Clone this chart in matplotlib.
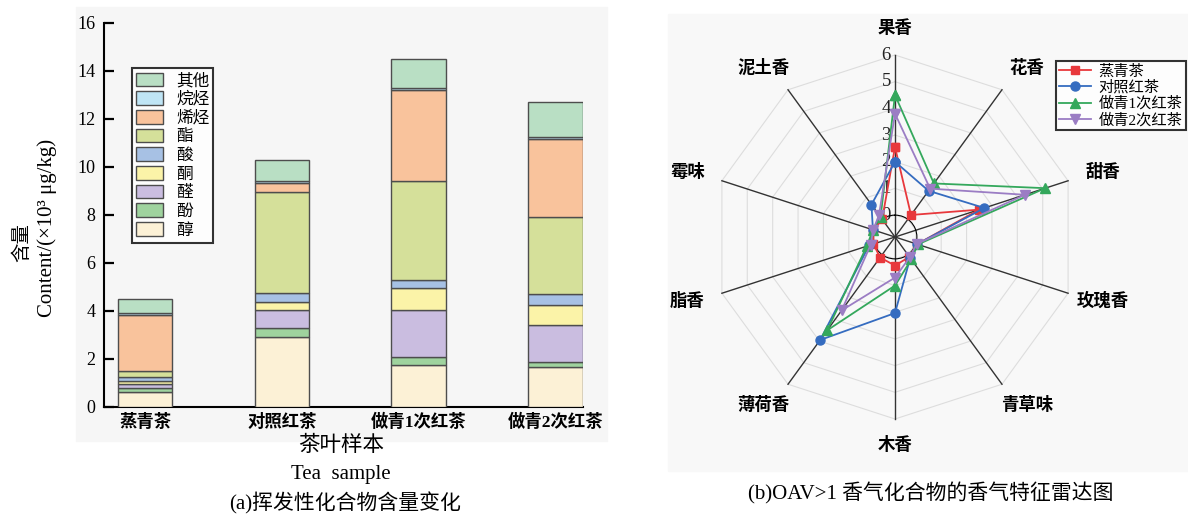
import numpy as np
import matplotlib.pyplot as plt
import matplotlib.transforms as mtransforms
from matplotlib.patches import Rectangle

plt.rcParams['font.family'] = ['Liberation Serif', 'Noto Sans CJK SC']
plt.rcParams['axes.unicode_minus'] = False

# 挥发性化合物含量 (×10^3 μg/kg), 自下而上堆叠
samples = ['蒸青茶', '对照红茶', '做青1次红茶', '做青2次红茶']
classes = ['醇', '酚', '醛', '酮', '酸', '酯', '烯烃', '烷烃', '其他']
alcohol = [0.62, 2.90, 1.75, 1.66]
phenol = [0.18, 0.37, 0.33, 0.20]
aldehyde = [0.15, 0.78, 1.94, 1.56]
ketone = [0.12, 0.30, 0.92, 0.80]
acid = [0.15, 0.37, 0.35, 0.49]
ester = [0.25, 4.24, 4.10, 3.18]
alkene = [2.35, 0.38, 3.80, 3.27]
alkane = [0.07, 0.07, 0.08, 0.09]
others = [0.61, 0.85, 1.20, 1.45]
class_colors = ['#fcf1d6', '#9fd39e', '#cabde0', '#fbf3a8', '#a7c1e4',
                '#d5e09a', '#f9c39c', '#bfe5f5', '#b9dfc4']

# OAV>1 香气特征
aromas = ['果香', '花香', '甜香', '玫瑰香', '青草味', '木香', '薄荷香', '脂香', '霉味', '泥土香']
oav_zqc = [2.55, 0.20, 2.50, 0.05, 0.10, 0.25, 0.13, 0.03, 0.03, 0.00]
oav_dz = [2.00, 1.32, 2.70, 0.05, 0.15, 2.03, 3.95, 0.20, 0.05, 0.68]
oav_zq1 = [4.50, 1.66, 5.10, 0.08, 0.22, 1.00, 3.50, 0.29, 0.05, 0.10]
oav_zq2 = [3.80, 1.42, 4.30, 0.03, 0.12, 0.70, 2.58, 0.14, 0.04, 0.20]
radar_ticks = [0, 1, 2, 3, 4, 5, 6]

fig = plt.figure(figsize=(11.88, 5.14), dpi=100)

# 浅灰底色
fig.add_artist(Rectangle((76 / 1188, 1 - 441 / 514), 531 / 1188, 434 / 514,
                         transform=fig.transFigure, color='#f6f6f6', zorder=-5))
fig.add_artist(Rectangle((668 / 1188, 1 - 471 / 514), 520 / 1188, 457 / 514,
                         transform=fig.transFigure, color='#f8f8f8', zorder=-5))

# ---- (a) 堆叠柱状图 ----
ax = fig.add_axes([104 / 1188, 1 - 406.7 / 514, 479 / 1188, 384 / 514])
ax.patch.set_alpha(0)
x = np.arange(len(samples))
bottom = np.zeros(len(samples))
bars = []
for vals, name, c in zip([alcohol, phenol, aldehyde, ketone, acid, ester, alkene, alkane, others],
                         classes, class_colors):
    b = ax.bar(x, vals, 0.4, bottom=bottom, color=c, edgecolor='#4d4d4d',
               linewidth=1, label=name, zorder=3)
    bars.append(b)
    bottom += np.array(vals)

ax.set_xlim(-0.3, 3.2)
ax.set_ylim(0, 16)
ax.set_yticks(np.arange(0, 17, 2))
ax.set_xticks(x)
ax.set_xticklabels(samples, fontsize=12.5, fontweight='bold')
ax.tick_params(axis='y', direction='in', length=7, width=1.6, labelsize=13, pad=6)
ax.tick_params(axis='x', direction='in', length=6, width=1.6, pad=5)
for s in ['top', 'right']:
    ax.spines[s].set_visible(False)
for s in ['left', 'bottom']:
    ax.spines[s].set_linewidth(1.5)

leg = ax.legend(bars[::-1], classes[::-1], loc='upper left',
                bbox_to_anchor=(0.058, 0.881), borderaxespad=0, fontsize=12,
                frameon=True, fancybox=False, edgecolor='black',
                handlelength=1.6, handleheight=0.9, labelspacing=0.12,
                handletextpad=0.8, borderpad=0.25)
leg.get_frame().set_linewidth(1.5)
leg.get_frame().set_facecolor('white')
for t in leg.get_texts():
    t.set_fontweight('medium')

fig.text(22 / 1188, 1 - 242 / 514, '含量', rotation=90, ha='center', va='center', fontsize=14)
fig.text(47 / 1188, 1 - 228 / 514, 'Content/(×10³ μg/kg)', rotation=90,
         ha='center', va='center', fontsize=15)
fig.text(341 / 1188, 1 - 446 / 514, '茶叶样本', ha='center', va='center', fontsize=15.5)
fig.text(341 / 1188, 1 - 474 / 514, 'Tea  sample', ha='center', va='center', fontsize=15)
fig.text(345 / 1188, 1 - 503 / 514, '(a)挥发性化合物含量变化', ha='center', va='center', fontsize=15)

# ---- (b) 雷达图 ----
cx, cy, R = 895, 237, 182
ax2 = fig.add_axes([(cx - R) / 1188, 1 - (cy + R) / 514, 2 * R / 1188, 2 * R / 514],
                   projection='polar')
ax2.set_theta_zero_location('N')
ax2.set_theta_direction(-1)
ax2.set_ylim(0, 6)
ax2.set_rorigin(-0.82)
ax2.set_xticks([])
ax2.set_yticks([])
ax2.grid(False)
ax2.spines['polar'].set_visible(False)
ax2.patch.set_alpha(0)

theta = np.deg2rad(np.arange(len(aromas)) * 36.0)
ring = np.append(theta, theta[0])
for r in radar_ticks:
    ax2.plot(ring, [r] * len(ring), color='#dddddd', lw=0.8, zorder=1, clip_on=False)
for t in theta:
    ax2.plot([t, t], [-0.82, 6], color='#333333', lw=1.0, zorder=2, clip_on=False)

lab_tr = mtransforms.offset_copy(ax2.transData, fig=fig, x=-3, y=0, units='points')
for r in radar_ticks:
    ax2.text(0, r, str(r), transform=lab_tr, ha='right', va='center', fontsize=13.5,
             color='#222222', zorder=2)

# 维度名称, 左右两侧向外稍移
for t, name in zip(theta, aromas):
    side = np.sign(np.round(np.sin(t), 3))
    tr = mtransforms.offset_copy(ax2.transData, fig=fig, x=6.5 * side, y=0, units='points')
    ax2.text(t, 7.0, name, transform=tr, ha='center', va='center', fontsize=12.5,
             fontweight='bold', clip_on=False)

series = [('蒸青茶', oav_zqc, '#e8383c', 's', 5.5),
          ('对照红茶', oav_dz, '#356cc0', 'o', 6.5),
          ('做青1次红茶', oav_zq1, '#34a85c', '^', 6.5),
          ('做青2次红茶', oav_zq2, '#9b7dc4', 'v', 6.5)]
for name, vals, c, m, ms in series:
    v = np.append(vals, vals[0])
    ax2.plot(ring, v, color=c, lw=1.3, marker=m, markersize=ms, label=name,
             zorder=4, clip_on=False)

leg2 = ax2.legend(loc='upper left', bbox_to_anchor=(1056 / 1188, 1 - 61 / 514),
                  bbox_transform=fig.transFigure, borderaxespad=0, fontsize=11,
                  frameon=True, fancybox=False, edgecolor='black',
                  handlelength=2.1, labelspacing=0.12, handletextpad=0.5, borderpad=0.2)
leg2.get_frame().set_linewidth(1.5)
leg2.get_frame().set_facecolor('white')
for t in leg2.get_texts():
    t.set_fontweight('medium')

fig.text(931 / 1188, 1 - 493 / 514, '(b)OAV>1 香气化合物的香气特征雷达图',
         ha='center', va='center', fontsize=15)

fig.savefig('out.png', dpi=100)
